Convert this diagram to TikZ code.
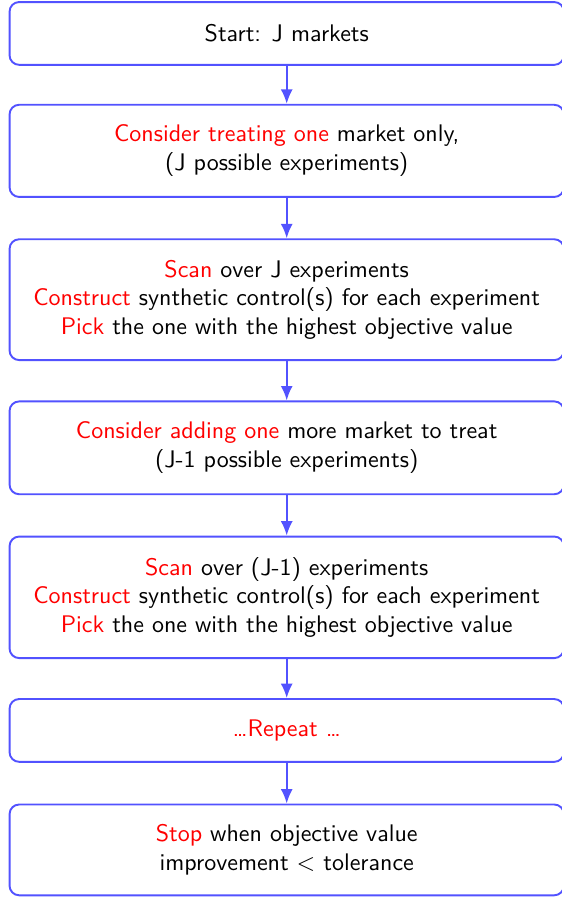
\documentclass[tikz,border=0pt]{standalone}
\definecolor{flowblue}{RGB}{82, 82, 255}
\usepackage{tikz}
\usetikzlibrary{shapes, arrows.meta, positioning, calc}
\renewcommand{\familydefault}{\sfdefault}
\newcommand{\hl}[1]{\textcolor{red}{#1}}

\begin{document}
\begin{tikzpicture}[
  flowbox/.style={draw=flowblue, line width=0.8pt, rounded corners=4pt, minimum width=8.12cm, align=center, inner sep=4pt},
  flowarrow/.style={draw=flowblue, line width=0.8pt, -{Latex[length=6pt, width=5pt]}}
]
  \useasboundingbox (0, 0) rectangle (8.22, -13.14);
  \node[flowbox, minimum height=0.92cm] (start) at (4.2, -0.49) {Start: J markets};
  \node[flowbox, minimum height=1.35cm] (one) at (4.2, -2.21) {\hl{Consider treating one} market only,\\(J possible experiments)};
  \node[flowbox, minimum height=1.77cm] (scan1) at (4.2, -4.39) {\hl{Scan} over J experiments\\\hl{Construct} synthetic control(s) for each experiment\\\hl{Pick} the one with the highest objective value};
  \node[flowbox, minimum height=1.36cm] (add) at (4.2, -6.56) {\hl{Consider adding one} more market to treat\\(J-1 possible experiments)};
  \node[flowbox, minimum height=1.78cm] (scan2) at (4.2, -8.75) {\hl{Scan} over (J-1) experiments\\\hl{Construct} synthetic control(s) for each experiment\\\hl{Pick} the one with the highest objective value};
  \node[flowbox, minimum height=0.92cm] (repeat) at (4.2, -10.70) {\hl{\dots Repeat \dots}};
  \node[flowbox, minimum height=1.33cm] (stop) at (4.2, -12.45) {\hl{Stop} when objective value\\improvement $<$ tolerance};

  \draw[flowarrow] (start) -- (one);
  \draw[flowarrow] (one) -- (scan1);
  \draw[flowarrow] (scan1) -- (add);
  \draw[flowarrow] (add) -- (scan2);
  \draw[flowarrow] (scan2) -- (repeat);
  \draw[flowarrow] (repeat) -- (stop);
\end{tikzpicture}
\end{document}
